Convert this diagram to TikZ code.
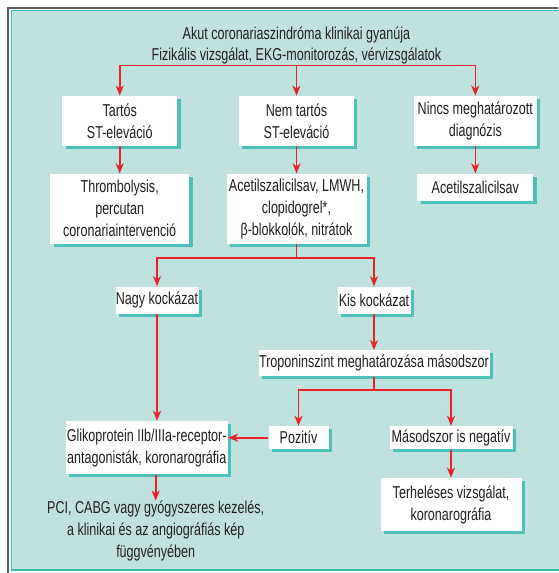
\documentclass[tikz,border=0pt]{standalone}
\usepackage{fontspec}
\setmainfont{Liberation Sans}[FakeStretch=0.73]
\usepackage{xcolor}
\usetikzlibrary{arrows.meta,positioning,shadows}

\definecolor{panelfill}{RGB}{191,226,222}
\definecolor{panelline}{RGB}{52,190,182}
\definecolor{boxshadow}{RGB}{77,192,184}
\definecolor{arrowred}{RGB}{232,33,43}
\definecolor{framegray}{RGB}{90,90,90}
\definecolor{textcol}{RGB}{35,31,32}

\begin{document}
\begin{tikzpicture}[
    x=1pt, y=1pt,
    node distance=13.5pt,
    txt/.style={inner sep=0pt, align=center, text=textcol, font=\fontsize{8.6}{11}\selectfont},
    box/.style={txt, rectangle, fill=white, drop shadow={shadow xshift=1.7pt, shadow yshift=-1.5pt, fill=boxshadow, opacity=1}},
    arrow/.style={-{Stealth[length=5pt,width=4pt,inset=1.5pt]}, draw=arrowred, line width=0.8pt}
]
\useasboundingbox (0,0) rectangle (279,-286.5);

% Frame and panel
\draw[framegray, line width=1pt] (3.75,-286.5) |- (279,-3.75);
\draw[fill=panelfill, draw=panelline, line width=0.6pt] (5.6,-5.2) rectangle (282,-285);

% First row
\node[box, minimum width=57.5pt, minimum height=25pt] (nemtartos) at (148.25,-60.5) {Nem tartós\\ST-eleváció};
\node[box, minimum width=57.5pt, minimum height=25pt, left=30.5pt of nemtartos] (tartos) {Tartós\\ST-eleváció};
\node[box, minimum width=61.5pt, minimum height=25pt, right=29.5pt of nemtartos] (nincs) {Nincs meghatározott\\diagnózis};

% Title
\coordinate[above=15pt of nemtartos] (bus);
\node[txt, above=0.8pt of bus, font=\fontsize{8.6}{10.5}\selectfont] (title) {Akut coronariaszindróma klinikai gyanúja\\Fizikális vizsgálat, EKG-monitorozás, vérvizsgálatok};

% Treatment
\node[box, minimum width=69.5pt, minimum height=35pt, below=of tartos] (thromb) {Thrombolysis,\\percutan\\coronariaintervenció};
\node[box, minimum width=70pt, minimum height=35pt, below=of nemtartos] (acetil) {Acetilszalicilsav, LMWH,\\clopidogrel*,\\β-blokkolók, nitrátok};
\node[box, minimum width=58pt, minimum height=13.5pt, below=of nincs] (aspirin) {Acetilszalicilsav};

% Risk
\node[box, minimum width=41.5pt, minimum height=13.5pt, below=21pt of acetil, xshift=-69.75pt] (nagy) {Nagy kockázat};
\node[box, minimum width=36.5pt, minimum height=13.5pt, below=21pt of acetil, xshift=38.75pt] (kis) {Kis kockázat};
\node[box, minimum width=115.5pt, minimum height=13pt, below=18pt of kis] (tropon) {Troponinszint meghatározása másodszor};

% Troponin result
\node[box, minimum width=30pt, minimum height=11.5pt, below=24.5pt of tropon, xshift=-37.75pt] (pozitiv) {Pozitív};
\node[box, minimum width=61.5pt, minimum height=11.5pt, below=24.5pt of tropon, xshift=38.5pt] (masodszor) {Másodszor is negatív};
\node[box, minimum width=81pt, minimum height=26.5pt, left=20pt of pozitiv, yshift=-5pt] (gliko) {Glikoprotein IIb/IIIa-receptor-\\antagonisták, koronarográfia};
\node[box, minimum width=70.5pt, minimum height=26.5pt, below=14pt of masodszor] (terheles) {Terheléses vizsgálat,\\koronarográfia};
\node[txt, below=13pt of gliko, xshift=4.5pt] (pci) {PCI, CABG vagy gyógyszeres kezelés,\\a klinikai és az angiográfiás kép\\függvényében};

% Arrows
\draw[arrow] (bus) -| (tartos.north);
\draw[arrow] (bus) -- (nemtartos.north);
\draw[arrow] (bus) -| (nincs.north);
\draw[arrow] (tartos) -- (thromb);
\draw[arrow] (nemtartos) -- (acetil);
\draw[arrow] (nincs) -- (aspirin);
\draw[arrow] (acetil.south) -- ++(0,-7) -| (nagy.north);
\draw[arrow] (acetil.south) -- ++(0,-7) -| (kis.north);
\draw[arrow] (kis) -- (tropon);
\draw[arrow] (nagy.south) -- (nagy.south |- gliko.north);
\draw[arrow] (tropon.south) -- ++(0,-6.5) -| (pozitiv.north);
\draw[arrow] (tropon.south) -- ++(0,-6.5) -| (masodszor.north);
\draw[arrow] (pozitiv.west) -- (pozitiv.west -| gliko.east);
\draw[arrow] (masodszor) -- (terheles);
\draw[arrow] (pci.north |- gliko.south) -- (pci.north);

\end{tikzpicture}
\end{document}
